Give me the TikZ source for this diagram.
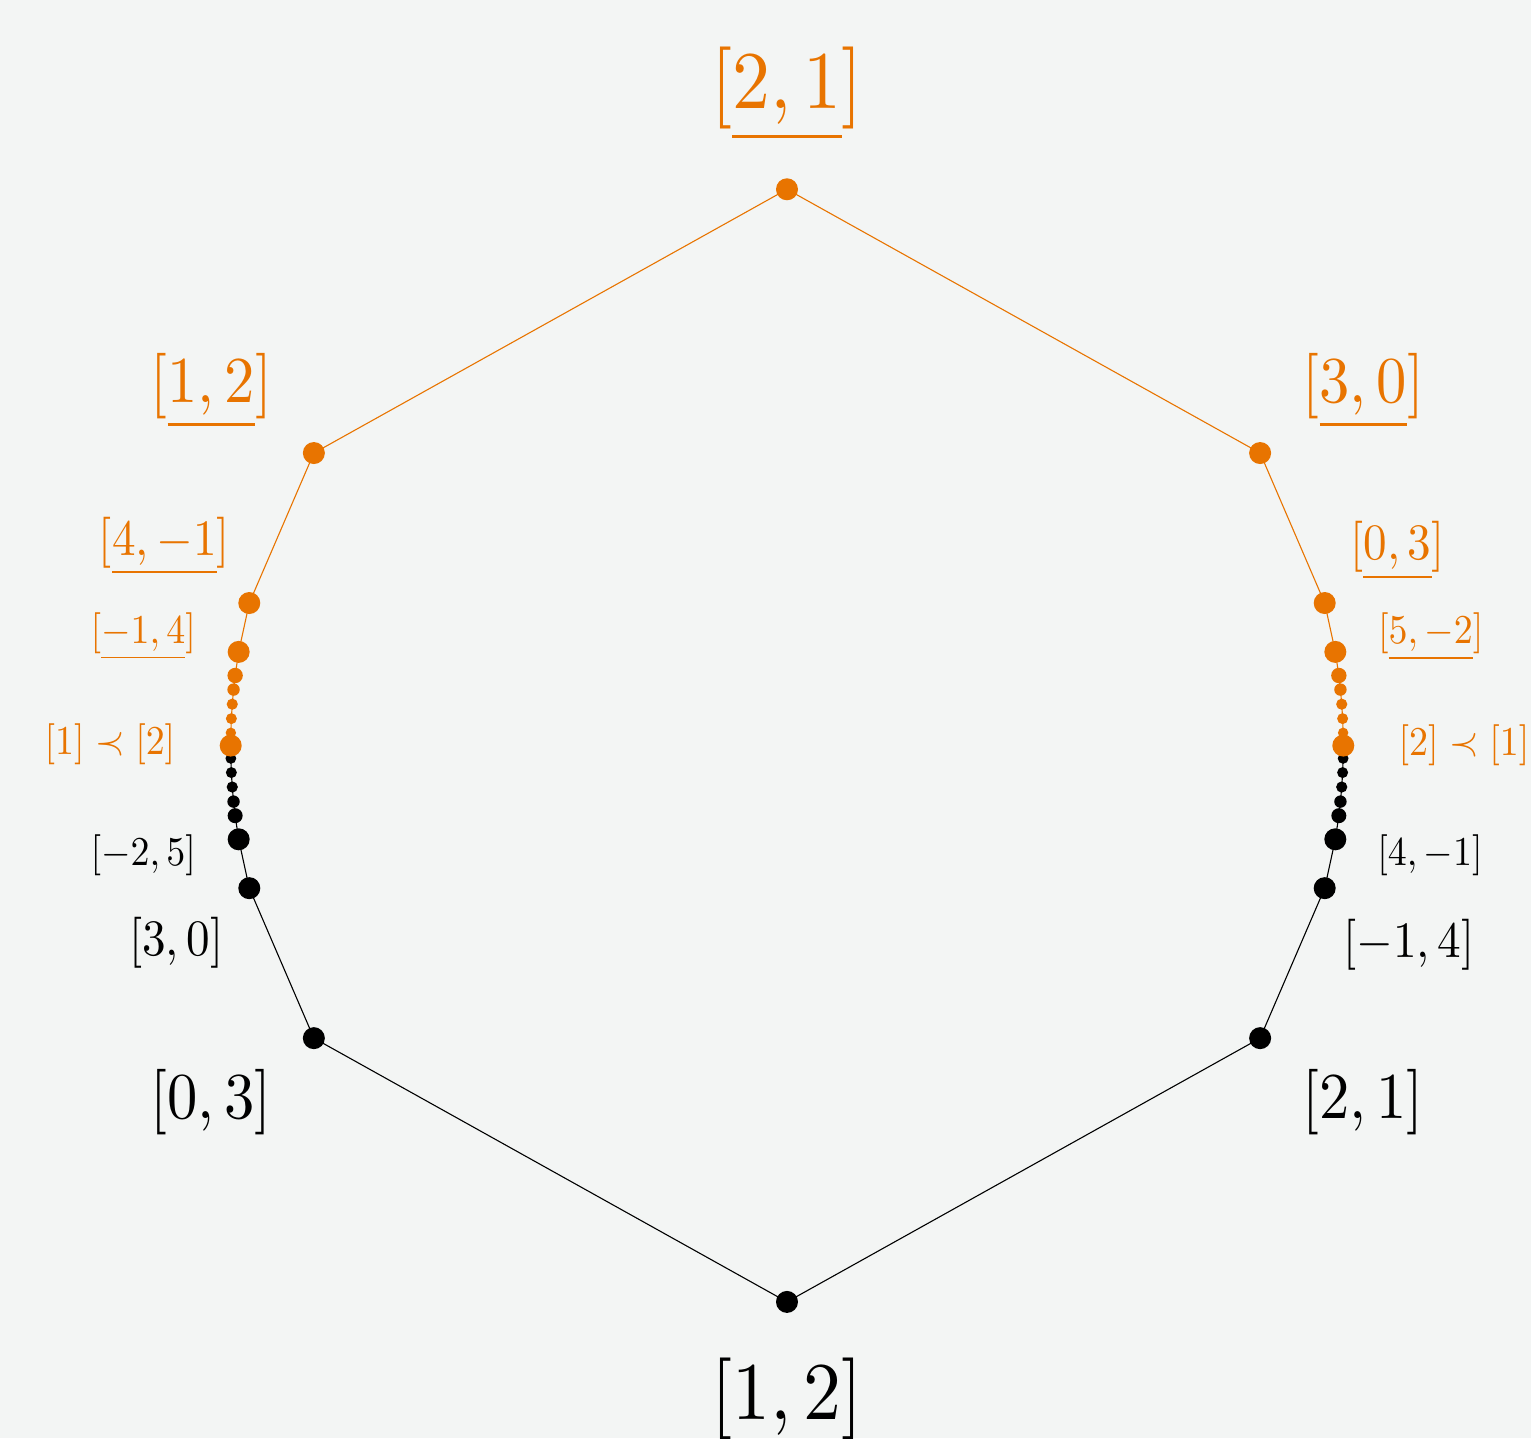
\documentclass[tikz,border=0pt]{standalone}
\pgfdeclarelayer{back}
\pgfsetlayers{back,main}
\definecolor{orng}{RGB}{232,116,0}
\definecolor{paper}{RGB}{243,245,244}
\begin{document}
\begin{tikzpicture}[x=1pt,y=1pt,
  pdot/.style={circle,fill,inner sep=0pt,minimum size=#1},
  odot/.style={pdot=#1,orng},
  bdot/.style={pdot=#1,black},
  lbl/.style={anchor=base,inner sep=0pt,xscale=0.925*#1/10,yscale=#1/10},
  olbl/.style={lbl=#1,text=orng},
  oline/.style={draw=orng,line width=1.1pt},
  bline/.style={draw=black,line width=1.1pt}]
\useasboundingbox (-787,-692.4) rectangle (744,745.6);
\def\R{556.3}
% black dots
\node[bdot=22] (bB) at (270:\R) {};
\node[bdot=22] (bL1) at (211.73:\R) {};
\node[bdot=22] (bL2) at (194.85:\R) {};
\node[bdot=22] (bL3) at (189.7:\R) {};
\node[bdot=15] (bL4) at (187.24:\R) {};
\node[bdot=12.4] (bL5) at (185.78:\R) {};
\node[bdot=11.2] (bL6) at (184.27:\R) {};
\node[bdot=11] (bL7) at (182.78:\R) {};
\node[bdot=10.8] (bL8) at (181.32:\R) {};
\node[bdot=22] (bR1) at (328.27:\R) {};
\node[bdot=22] (bR2) at (345.15:\R) {};
\node[bdot=22] (bR3) at (350.3:\R) {};
\node[bdot=15] (bR4) at (352.76:\R) {};
\node[bdot=12.4] (bR5) at (354.22:\R) {};
\node[bdot=11.2] (bR6) at (355.73:\R) {};
\node[bdot=11] (bR7) at (357.22:\R) {};
\node[bdot=10.8] (bR8) at (358.68:\R) {};
% orange dots
\node[odot=22] (oT) at (90:\R) {};
\node[odot=22] (oL1) at (148.27:\R) {};
\node[odot=22] (oL2) at (165.15:\R) {};
\node[odot=22] (oL3) at (170.3:\R) {};
\node[odot=15.4] (oL4) at (172.76:\R) {};
\node[odot=12.4] (oL5) at (174.22:\R) {};
\node[odot=11.2] (oL6) at (175.73:\R) {};
\node[odot=11] (oL7) at (177.22:\R) {};
\node[odot=10.4] (oL8) at (178.68:\R) {};
\node[odot=22] (oL9) at (180:\R) {};
\node[odot=22] (oR1) at (31.73:\R) {};
\node[odot=22] (oR2) at (14.85:\R) {};
\node[odot=22] (oR3) at (9.7:\R) {};
\node[odot=15.4] (oR4) at (7.24:\R) {};
\node[odot=12.4] (oR5) at (5.78:\R) {};
\node[odot=11.2] (oR6) at (4.27:\R) {};
\node[odot=11] (oR7) at (2.78:\R) {};
\node[odot=10.4] (oR8) at (1.32:\R) {};
\node[odot=22] (oR9) at (0:\R) {};
% background and connectors
\begin{pgfonlayer}{back}
\fill[paper] (-787,-692.4) rectangle (744,745.6);
\draw[oline] (oL9.center) -- (oL8.center) -- (oL7.center) -- (oL6.center) -- (oL5.center) -- (oL4.center) -- (oL3.center) -- (oL2.center) -- (oL1.center) -- (oT.center) -- (oR1.center) -- (oR2.center) -- (oR3.center) -- (oR4.center) -- (oR5.center) -- (oR6.center) -- (oR7.center) -- (oR8.center) -- (oR9.center);
\draw[bline] (bL8.center) -- (bL7.center) -- (bL6.center) -- (bL5.center) -- (bL4.center) -- (bL3.center) -- (bL2.center) -- (bL1.center) -- (bB.center) -- (bR1.center) -- (bR2.center) -- (bR3.center) -- (bR4.center) -- (bR5.center) -- (bR6.center) -- (bR7.center) -- (bR8.center);
\end{pgfonlayer}
% labels
\node[olbl=82] (tT) at (0,636.8) {$[\underline{2,1}]$};
\node[lbl=82] (tB) at (0,-673.9) {$[1,2]$};
\node[olbl=65.5] (tOL1) at (-575.7,343.2) {$[\underline{1,2}]$};
\node[olbl=65.5] (tOR1) at (576.3,343.2) {$[\underline{3,0}]$};
\node[lbl=65.5] (tBL1) at (-576,-372.4) {$[0,3]$};
\node[lbl=65.5] (tBR1) at (576,-372.4) {$[2,1]$};
\node[olbl=51] (tOL2) at (-622.5,190.3) {$[\underline{4,-1}]$};
\node[olbl=51] (tOR2) at (610.5,185.6) {$[\underline{0,3}]$};
\node[olbl=41] (tOL3) at (-643.7,101.8) {$[\underline{-1,4}]$};
\node[olbl=41] (tOR3) at (643.8,101.6) {$[\underline{5,-2}]$};
\node[olbl=41] (tOL4) at (-677,-9.2) {$[1]\prec[2]$};
\node[olbl=41] (tOR4) at (677,-9.4) {$[2]\prec[1]$};
\node[lbl=41] (tBL3) at (-643.7,-120.2) {$[-2,5]$};
\node[lbl=41] (tBR3) at (643,-120.2) {$[4,-1]$};
\node[lbl=51] (tBL2) at (-610.7,-210.2) {$[3,0]$};
\node[lbl=51] (tBR2) at (622,-211.9) {$[-1,4]$};
\end{tikzpicture}
\end{document}
